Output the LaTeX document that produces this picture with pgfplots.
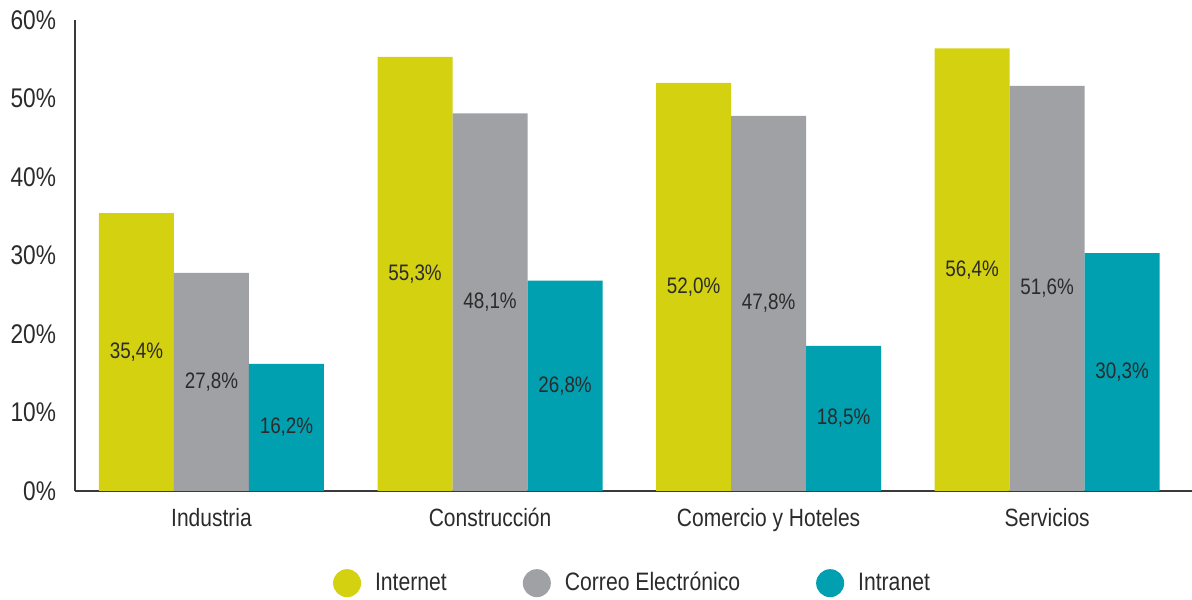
\documentclass[border=0pt]{standalone}
\usepackage{fontspec}
\setmainfont{Liberation Sans}[FakeStretch=0.84]
\usepackage{pgfplots}
\pgfplotsset{compat=1.18}

\definecolor{cyel}{HTML}{D4D110}
\definecolor{cgray}{HTML}{A0A1A5}
\definecolor{cteal}{HTML}{00A0B0}
\definecolor{ctext}{HTML}{2B2B2B}
\definecolor{caxis}{HTML}{3A3A3A}

\begin{document}
\begin{tikzpicture}
\begin{axis}[
    scale only axis,
    width=558.5pt, height=235.5pt,
    ybar=0pt, bar width=37.5pt,
    xmin=-0.49, xmax=3.52,
    ymin=0, ymax=60,
    axis lines=left,
    axis line style={-, caxis, line width=1pt},
    major tick length=0pt,
    xtick=data,
    xticklabels={Industria, Construcción, Comercio y Hoteles, Servicios},
    ytick={0,10,20,30,40,50,60},
    yticklabels={0\%,10\%,20\%,30\%,40\%,50\%,60\%},
    xticklabel style={font=\fontsize{12.5}{14}\selectfont, text=ctext, yshift=-5pt},
    yticklabel style={font=\fontsize{13.5}{15}\selectfont, text=ctext, xshift=-6pt},
    nodes near coords={\pgfmathprintnumber[fixed,fixed zerofill,precision=1,use comma,assume math mode=true]{\pgfplotspointmeta}\%},
    visualization depends on=y \as \rawy,
    every node near coord/.append style={anchor=center, font=\fontsize{11.2}{13}\selectfont, text=ctext, shift={(axis direction cs:0,-\rawy/2)}},
    legend style={draw=none, at={(0.5,-0.155)}, anchor=north, legend columns=3,
        font=\fontsize{12.6}{14}\selectfont, text=ctext,
        /tikz/every odd column/.append style={column sep=5pt},
        /tikz/every even column/.append style={column sep=36pt}},
    clip=false,
]
\addplot[fill=cyel, draw=none, legend image code/.code={\fill[cyel] (3pt,0pt) circle (7pt);}]
    coordinates {(0,35.4) (1,55.3) (2,52.0) (3,56.4)};
\addlegendentry{Internet}
\addplot[fill=cgray, draw=none, legend image code/.code={\fill[cgray] (3pt,0pt) circle (7pt);}]
    coordinates {(0,27.8) (1,48.1) (2,47.8) (3,51.6)};
\addlegendentry{Correo Electrónico}
\addplot[fill=cteal, draw=none, legend image code/.code={\fill[cteal] (3pt,0pt) circle (7pt);}]
    coordinates {(0,16.2) (1,26.8) (2,18.5) (3,30.3)};
\addlegendentry{Intranet}
\coordinate (sw) at (rel axis cs:0,0);
\coordinate (ne) at (rel axis cs:1,1);
\end{axis}
\pgfresetboundingbox
\path ([xshift=-37.5pt,yshift=-54.5pt]sw) rectangle ([yshift=10pt]ne);
\end{tikzpicture}
\end{document}
